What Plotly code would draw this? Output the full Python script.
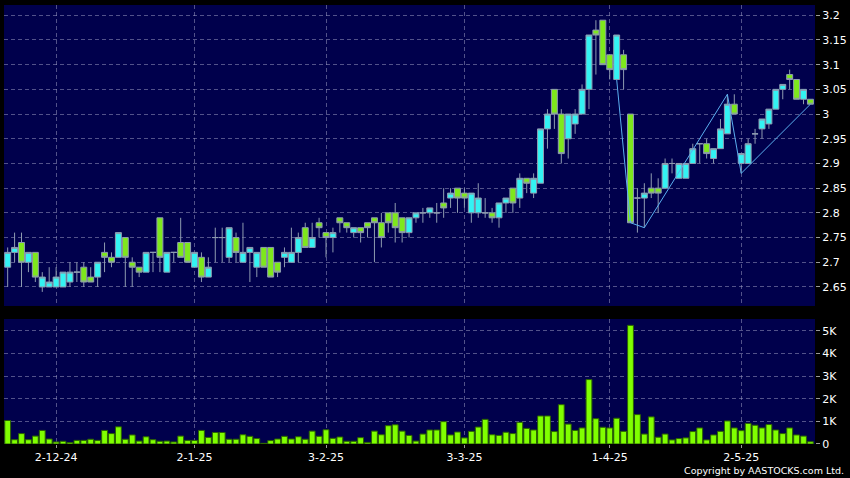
import pandas as pd
import plotly.graph_objects as go

# ---------------- data ----------------
hk_holidays = ["2024-12-25", "2024-12-26", "2025-01-01", "2025-01-29", "2025-01-30",
               "2025-01-31", "2025-04-04", "2025-04-18", "2025-04-21", "2025-05-01", "2025-05-05"]
dates = [d.strftime("%Y-%m-%d") for d in pd.bdate_range("2024-11-21", "2025-05-19")
         if d.strftime("%Y-%m-%d") not in hk_holidays]

open_ = [2.69, 2.72, 2.74, 2.70, 2.72, 2.65, 2.65, 2.65, 2.65, 2.66,
         2.68, 2.69, 2.67, 2.67, 2.72, 2.71, 2.71, 2.75, 2.70, 2.69,
         2.68, 2.72, 2.79, 2.68, 2.72, 2.74, 2.74, 2.69, 2.71, 2.67,
         2.75, 2.75, 2.71, 2.75, 2.70, 2.72, 2.69, 2.73, 2.73, 2.70,
         2.71, 2.70, 2.72, 2.77, 2.73, 2.78, 2.76, 2.75, 2.79, 2.78,
         2.76, 2.77, 2.78, 2.79, 2.78, 2.80, 2.80, 2.79, 2.76, 2.79,
         2.80, 2.80, 2.80, 2.82, 2.83, 2.85, 2.84, 2.80, 2.80, 2.80,
         2.80, 2.79, 2.82, 2.85, 2.83, 2.87, 2.84, 2.86, 2.97, 3.05,
         3.00, 2.95, 2.98, 3.00, 3.05, 3.17, 3.19, 3.12, 3.07, 3.12,
         3.00, 2.83, 2.83, 2.85, 2.85, 2.85, 2.90, 2.87, 2.87, 2.90,
         2.94, 2.94, 2.91, 2.93, 2.96, 3.02, 2.90, 2.90, 2.96, 2.97,
         2.98, 3.01, 3.05, 3.08, 3.07, 3.03, 3.03]
high = [2.73, 2.76, 2.76, 2.72, 2.72, 2.68, 2.69, 2.69, 2.68, 2.70,
        2.70, 2.70, 2.69, 2.70, 2.74, 2.72, 2.76, 2.75, 2.71, 2.69,
        2.72, 2.72, 2.79, 2.72, 2.72, 2.79, 2.74, 2.72, 2.72, 2.71,
        2.77, 2.77, 2.77, 2.76, 2.78, 2.73, 2.72, 2.73, 2.73, 2.70,
        2.73, 2.77, 2.76, 2.78, 2.78, 2.79, 2.76, 2.77, 2.79, 2.78,
        2.77, 2.77, 2.78, 2.79, 2.80, 2.80, 2.82, 2.79, 2.79, 2.80,
        2.81, 2.81, 2.82, 2.85, 2.85, 2.85, 2.85, 2.84, 2.86, 2.83,
        2.81, 2.82, 2.83, 2.85, 2.88, 2.87, 2.88, 2.97, 3.01, 3.05,
        3.01, 3.00, 3.01, 3.06, 3.16, 3.19, 3.19, 3.12, 3.16, 3.13,
        3.00, 2.85, 2.86, 2.88, 2.87, 2.91, 2.91, 2.90, 2.90, 2.94,
        2.94, 2.95, 2.93, 2.99, 3.04, 3.04, 2.92, 2.95, 2.97, 2.99,
        3.01, 3.05, 3.06, 3.09, 3.07, 3.05, 3.03]
low = [2.65, 2.70, 2.65, 2.68, 2.66, 2.64, 2.65, 2.65, 2.65, 2.65,
       2.66, 2.65, 2.66, 2.65, 2.68, 2.69, 2.71, 2.65, 2.65, 2.67,
       2.68, 2.68, 2.68, 2.68, 2.70, 2.71, 2.70, 2.69, 2.66, 2.67,
       2.70, 2.70, 2.70, 2.70, 2.70, 2.66, 2.67, 2.69, 2.67, 2.67,
       2.69, 2.70, 2.70, 2.73, 2.73, 2.75, 2.71, 2.72, 2.76, 2.76,
       2.75, 2.74, 2.75, 2.70, 2.73, 2.76, 2.74, 2.74, 2.75, 2.78,
       2.78, 2.79, 2.78, 2.79, 2.81, 2.80, 2.81, 2.78, 2.79, 2.79,
       2.78, 2.77, 2.80, 2.80, 2.81, 2.84, 2.83, 2.86, 2.93, 2.97,
       2.90, 2.91, 2.96, 3.00, 3.01, 3.08, 3.10, 3.07, 3.07, 3.05,
       2.78, 2.76, 2.77, 2.83, 2.80, 2.85, 2.88, 2.87, 2.87, 2.90,
       2.90, 2.91, 2.90, 2.93, 2.96, 3.00, 2.88, 2.90, 2.94, 2.95,
       2.97, 3.01, 3.03, 3.05, 3.03, 3.02, 3.02]
close = [2.72, 2.73, 2.70, 2.72, 2.67, 2.67, 2.66, 2.67, 2.68, 2.68,
         2.68, 2.66, 2.66, 2.70, 2.71, 2.70, 2.76, 2.71, 2.69, 2.68,
         2.72, 2.72, 2.71, 2.72, 2.72, 2.71, 2.70, 2.72, 2.67, 2.69,
         2.75, 2.75, 2.77, 2.72, 2.72, 2.73, 2.72, 2.69, 2.67, 2.68,
         2.72, 2.72, 2.75, 2.73, 2.75, 2.77, 2.75, 2.76, 2.78, 2.77,
         2.77, 2.76, 2.77, 2.78, 2.75, 2.78, 2.77, 2.76, 2.79, 2.80,
         2.80, 2.81, 2.80, 2.81, 2.84, 2.83, 2.83, 2.84, 2.83, 2.80,
         2.79, 2.82, 2.83, 2.82, 2.87, 2.86, 2.87, 2.97, 3.00, 3.00,
         2.92, 3.00, 3.00, 3.05, 3.16, 3.16, 3.10, 3.09, 3.16, 3.09,
         2.78, 2.83, 2.84, 2.84, 2.84, 2.90, 2.90, 2.90, 2.90, 2.93,
         2.94, 2.92, 2.93, 2.97, 3.02, 3.00, 2.92, 2.94, 2.96, 2.99,
         3.01, 3.05, 3.06, 3.07, 3.03, 3.05, 3.02]
volume = [1040, 190, 460, 190, 350, 600, 220, 90, 120, 60,
          160, 160, 210, 160, 600, 460, 760, 210, 400, 130,
          320, 190, 120, 130, 90, 350, 160, 160, 600, 290,
          510, 510, 210, 210, 410, 340, 240, 30, 150, 220,
          340, 220, 320, 210, 570, 340, 630, 250, 310, 120,
          120, 280, 70, 570, 410, 810, 850, 570, 380, 130,
          440, 620, 620, 990, 400, 530, 270, 560, 750, 1090,
          410, 380, 520, 460, 960, 690, 620, 1240, 1240, 550,
          1740, 880, 600, 710, 2850, 1120, 740, 710, 1140, 560,
          5250, 1300, 440, 1200, 300, 440, 180, 240, 270, 550,
          710, 180, 400, 560, 1020, 710, 590, 910, 830, 710,
          860, 620, 460, 710, 400, 350, 100]

# trend (zig-zag) line pivots: bar index and price
zigzag_idx = [88, 90, 92, 104, 106, 116]
zigzag_val = [3.07, 2.78, 2.77, 3.04, 2.88, 3.02]

tick_dates = ["2024-12-02", "2025-01-02", "2025-02-03", "2025-03-03", "2025-04-01", "2025-05-02"]
tick_text = ["2-12-24", "2-1-25", "3-2-25", "3-3-25", "1-4-25", "2-5-25"]
price_ticks = [2.65, 2.7, 2.75, 2.8, 2.85, 2.9, 2.95, 3.0, 3.05, 3.1, 3.15, 3.2]
vol_ticks = [0, 1000, 2000, 3000, 4000, 5000]
vol_tick_text = ["0", "1K", "2K", "3K", "4K", "5K"]

# ---------------- figure ----------------
GRID = "rgba(150,150,190,0.55)"
FONT = dict(family="DejaVu Sans", size=11, color="#ffffff")

fig = go.Figure()
fig.add_trace(go.Candlestick(
    x=dates, open=open_, high=high, low=low, close=close,
    increasing=dict(fillcolor="#33f3f3", line=dict(color="#8e9bb0", width=1)),
    decreasing=dict(fillcolor="#7ee81c", line=dict(color="#8e9bb0", width=1)),
    whiskerwidth=0, xaxis="x", yaxis="y", hoverinfo="skip"))
fig.add_trace(go.Scatter(
    x=[dates[i] for i in zigzag_idx], y=zigzag_val, mode="lines",
    line=dict(color="#5aaff0", width=1), xaxis="x", yaxis="y", hoverinfo="skip"))
fig.add_trace(go.Bar(
    x=dates, y=volume, marker=dict(color="#80ff00", line=dict(color="#2c6400", width=1)),
    xaxis="x2", yaxis="y2", hoverinfo="skip"))

n = len(dates)
xr = [-0.53, n - 1 + 0.66]
common_x = dict(type="category", range=xr, tickvals=tick_dates, showgrid=True,
                gridcolor=GRID, griddash="4px,3px", gridwidth=1, zeroline=False,
                showline=False)

fig.update_layout(
    width=850, height=478,
    margin=dict(l=4, r=35, t=5, b=34),
    paper_bgcolor="#000000", plot_bgcolor="#00004c",
    showlegend=False, font=FONT,
    boxgap=0.14, boxgroupgap=0, bargap=0.16,
    xaxis=dict(domain=[0, 1], anchor="y", showticklabels=False, ticks="",
               rangeslider=dict(visible=False), **common_x),
    yaxis=dict(domain=[0.3144, 1], side="right", range=[2.6115, 3.2208],
               tickvals=price_ticks, ticktext=[f"{v:g}" for v in price_ticks],
               showgrid=True, gridcolor=GRID, griddash="4px,3px", zeroline=False,
               ticks="outside", ticklen=4, tickcolor="#9a9a9a", tickfont=FONT),
    xaxis2=dict(domain=[0, 1], anchor="y2", matches="x", ticktext=tick_text,
                ticks="outside", ticklen=3, tickcolor="#9a9a9a", tickfont=FONT,
                **common_x),
    yaxis2=dict(domain=[0, 0.2847], side="right", range=[0, 5530],
                tickvals=vol_ticks, ticktext=vol_tick_text,
                showgrid=True, gridcolor=GRID, griddash="4px,3px", zeroline=False,
                ticks="outside", ticklen=4, tickcolor="#9a9a9a", tickfont=FONT),
    annotations=[dict(text="Copyright by AASTOCKS.com Ltd.", xref="paper", yref="paper",
                      x=1, y=0, xanchor="right", yanchor="middle", xshift=31, yshift=-26,
                      showarrow=False, font=dict(family="DejaVu Sans", size=9.5, color="#ffffff"))],
)

fig.write_html("out.html", config={"displayModeBar": False},
               post_script="document.body.style.margin='0';document.body.style.background='#000';")
